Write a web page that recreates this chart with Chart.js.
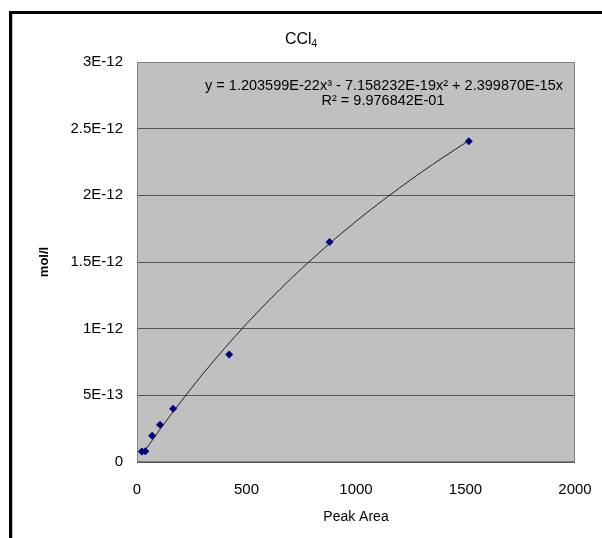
<!DOCTYPE html>
<html>
<head>
<meta charset="utf-8">
<script src="https://cdn.jsdelivr.net/npm/chart.js@4.4.1/dist/chart.umd.min.js"></script>
<style>
  html, body { margin: 0; padding: 0; background: #fff; overflow: hidden; }
  #frame { position: absolute; left: 9px; top: 11px; width: 700px; height: 600px;
           border-left: 3px solid #000; border-top: 3px solid #000; }
  #inner { position: absolute; left: 0; top: 0; width: 1px; height: 600px; background: #c8c8c8; }
  #wrap { position: absolute; left: 0; top: 0; width: 602px; height: 538px; }
</style>
</head>
<body>
<div id="frame"><div id="inner"></div></div>
<div id="wrap"><canvas id="c" width="602" height="538"></canvas></div>
<script>
// ---- data ----
const titleMain = 'CCl';
const titleSub = '4';
const xAxisTitle = 'Peak Area';
const yAxisTitle = 'mol/l';
const equationLines = ['y = 1.203599E-22x\u00B3 - 7.158232E-19x\u00B2 + 2.399870E-15x', 'R\u00B2 = 9.976842E-01'];

const peakArea = [22, 38, 69, 105, 165, 421, 879, 1515];
const molPerL  = [7.8e-14, 8.0e-14, 1.96e-13, 2.79e-13, 4.0e-13, 8.07e-13, 1.65e-12, 2.405e-12];

const trendX = [22, 100, 200, 300, 400, 500, 600, 700, 800, 900, 1000, 1100, 1200, 1300, 1400, 1515];
const trendY = [5.24e-14, 2.33e-13, 4.52e-13, 6.59e-13, 8.53e-13, 1.036e-12, 1.208e-12, 1.371e-12,
                1.523e-12, 1.668e-12, 1.805e-12, 1.934e-12, 2.057e-12, 2.175e-12, 2.287e-12, 2.411e-12];

const yTickLabels = ['0', '5E-13', '1E-12', '1.5E-12', '2E-12', '2.5E-12', '3E-12'];
const xTickLabels = ['0', '500', '1000', '1500', '2000'];

const FONT = '"Liberation Sans", Arial, sans-serif';

const plotDeco = {
  id: 'plotDeco',
  beforeDraw(chart) {
    const {ctx, chartArea: a} = chart;
    ctx.save();
    ctx.fillStyle = '#c0c0c0';
    ctx.fillRect(a.left, a.top, a.right - a.left, a.bottom - a.top);
    ctx.restore();
  },
  afterDraw(chart) {
    const {ctx, chartArea: a} = chart;
    ctx.save();
    ctx.strokeStyle = '#808080';
    ctx.lineWidth = 1;
    ctx.strokeRect(Math.round(a.left) + 0.5, Math.round(a.top) + 0.5,
                   Math.round(a.right - a.left) - 1, Math.round(a.bottom - a.top) - 1);
    // title with subscript
    ctx.fillStyle = '#000';
    ctx.textBaseline = 'alphabetic';
    ctx.font = '16px ' + FONT;
    const wMain = ctx.measureText(titleMain).width;
    ctx.font = '10px ' + FONT;
    const wSub = ctx.measureText(titleSub).width;
    const cx = 301;
    const x0 = cx - (wMain + wSub) / 2;
    ctx.font = '16px ' + FONT;
    ctx.textAlign = 'left';
    ctx.fillText(titleMain, x0, 44);
    ctx.font = '10px ' + FONT;
    ctx.fillText(titleSub, x0 + wMain, 47);
    // equation
    ctx.font = '14.5px ' + FONT;
    ctx.textAlign = 'center';
    ctx.textBaseline = 'middle';
    ctx.fillText(equationLines[0], 384, 86);
    ctx.fillText(equationLines[1], 383, 101);
    ctx.restore();
  }
};

new Chart(document.getElementById('c'), {
  type: 'scatter',
  data: {
    datasets: [
      {
        type: 'line',
        label: 'trend',
        data: trendX.map((x, i) => ({x, y: trendY[i]})),
        borderColor: '#202020',
        borderWidth: 1,
        pointRadius: 0,
        fill: false,
        cubicInterpolationMode: 'monotone',
        order: 2
      },
      {
        label: 'CCl4',
        data: peakArea.map((x, i) => ({x, y: molPerL[i]})),
        pointStyle: 'rectRot',
        pointRadius: 4,
        backgroundColor: '#000080',
        borderColor: '#000080',
        borderWidth: 0,
        order: 1
      }
    ]
  },
  options: {
    responsive: false,
    animation: false,
    events: [],
    layout: { padding: { top: 62, right: 27, left: 0, bottom: 0 } },
    plugins: { legend: { display: false }, tooltip: { enabled: false }, title: { display: false } },
    scales: {
      x: {
        type: 'linear', min: 0, max: 2000,
        afterFit(s) { s.height = 76; s.paddingRight = 0; s.paddingLeft = 0; },
        grid: { display: false, drawTicks: false },
        border: { display: false },
        ticks: {
          stepSize: 500, padding: 19, color: '#000', maxRotation: 0,
          font: { family: FONT, size: 15 },
          callback: (v) => { const i = Math.round(v / 500); return xTickLabels[i] ?? ''; }
        },
        title: { display: true, text: xAxisTitle, color: '#000', font: { family: FONT, size: 14 }, padding: { bottom: 12, top: 0 } }
      },
      y: {
        type: 'linear', min: 0, max: 3e-12,
        afterFit(s) { s.width = 137; s.paddingTop = 0; s.paddingBottom = 0; },
        grid: { display: true, color: '#555555', lineWidth: 1, drawTicks: false },
        border: { display: false },
        ticks: {
          stepSize: 5e-13, padding: 14, color: '#000',
          font: { family: FONT, size: 15 },
          callback: (v) => { const i = Math.round(v / 5e-13); return yTickLabels[i] ?? ''; }
        },
        title: { display: true, text: yAxisTitle, color: '#000', font: { family: FONT, size: 13, weight: 'bold' }, padding: { top: 37, bottom: 0 } }
      }
    }
  },
  plugins: [plotDeco]
});
</script>
</body>
</html>
